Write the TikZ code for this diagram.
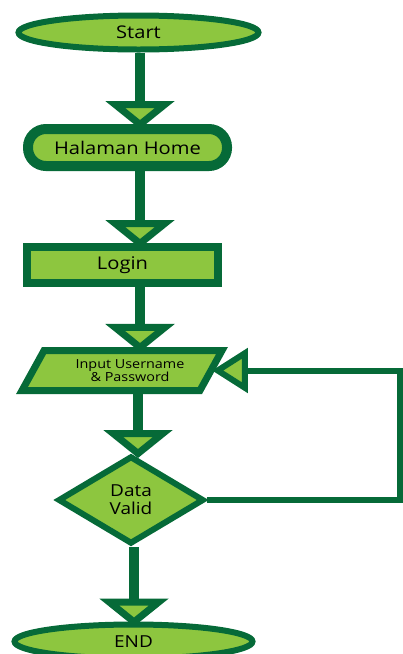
\documentclass[tikz,border=0pt]{standalone}
\usepackage{fontspec}
\setmainfont[FakeStretch=1.15]{Open Sans}
\usetikzlibrary{shapes.geometric,arrows.meta}
\definecolor{darkg}{RGB}{6,106,56}
\definecolor{lightg}{RGB}{141,198,63}
\begin{document}
\begin{tikzpicture}[x=1pt,y=-1pt]
    \tikzset{box/.style={draw=darkg,fill=lightg,align=center,inner sep=0pt,font=\fontsize{17.5}{19}\selectfont},
        flow/.style={draw=darkg,line width=10pt,shorten >=-5pt,-{Triangle[width=68pt,length=28pt,fill=lightg,line width=8pt]}},
        back/.style={draw=darkg,line width=6pt,shorten >=-3pt,-{Triangle[width=44pt,length=36pt,fill=lightg,line width=6pt]}}};
    \useasboundingbox (0,0) rectangle (403,654);
    \node[box,ellipse,line width=6pt,minimum width=240pt,minimum height=34pt] (start) at (138.5,32.5) {Start};
    \node[box,rectangle,rounded corners=18pt,line width=10pt,minimum width=199pt,minimum height=37pt] (home) at (127.5,147.5) {Halaman Home};
    \node[box,rectangle,line width=8pt,minimum width=191pt,minimum height=36pt] (login) at (122.5,265) {Login};
    \node[box,trapezium,trapezium left angle=45,trapezium right angle=135,trapezium stretches body,line width=7pt,
        minimum width=200pt,minimum height=40pt,font=\fontsize{12.5}{13}\selectfont] (input) at (122,370.5) {\hspace*{16pt}Input Username\\\hspace*{16pt}\& Password};
    \node[box,diamond,line width=6pt,minimum width=146pt,minimum height=88pt,font=\fontsize{16.5}{18}\selectfont] (dec) at (131,500) {Data\\Valid};
    \node[box,ellipse,line width=6pt,minimum width=238pt,minimum height=34pt,font=\fontsize{16.5}{18}\selectfont] (end) at (133.5,641.5) {END};
    \coordinate (side) at (400,0);
    \draw[flow] (start.south -| 140,0) -- (home.north -| 140,0);
    \draw[flow] (home.south -| 140,0) -- (login.north -| 140,0);
    \draw[flow] (login.south -| 140,0) -- (input.north -| 140,0);
    \draw[flow] (input.south -| 138,0) -- (dec.north -| 138,0);
    \draw[flow] (dec.south -| 134,0) -- (end.north -| 134,0);
    \draw[back] (dec.east) -- (dec.east -| side) |- (input.east);
\end{tikzpicture}
\end{document}
